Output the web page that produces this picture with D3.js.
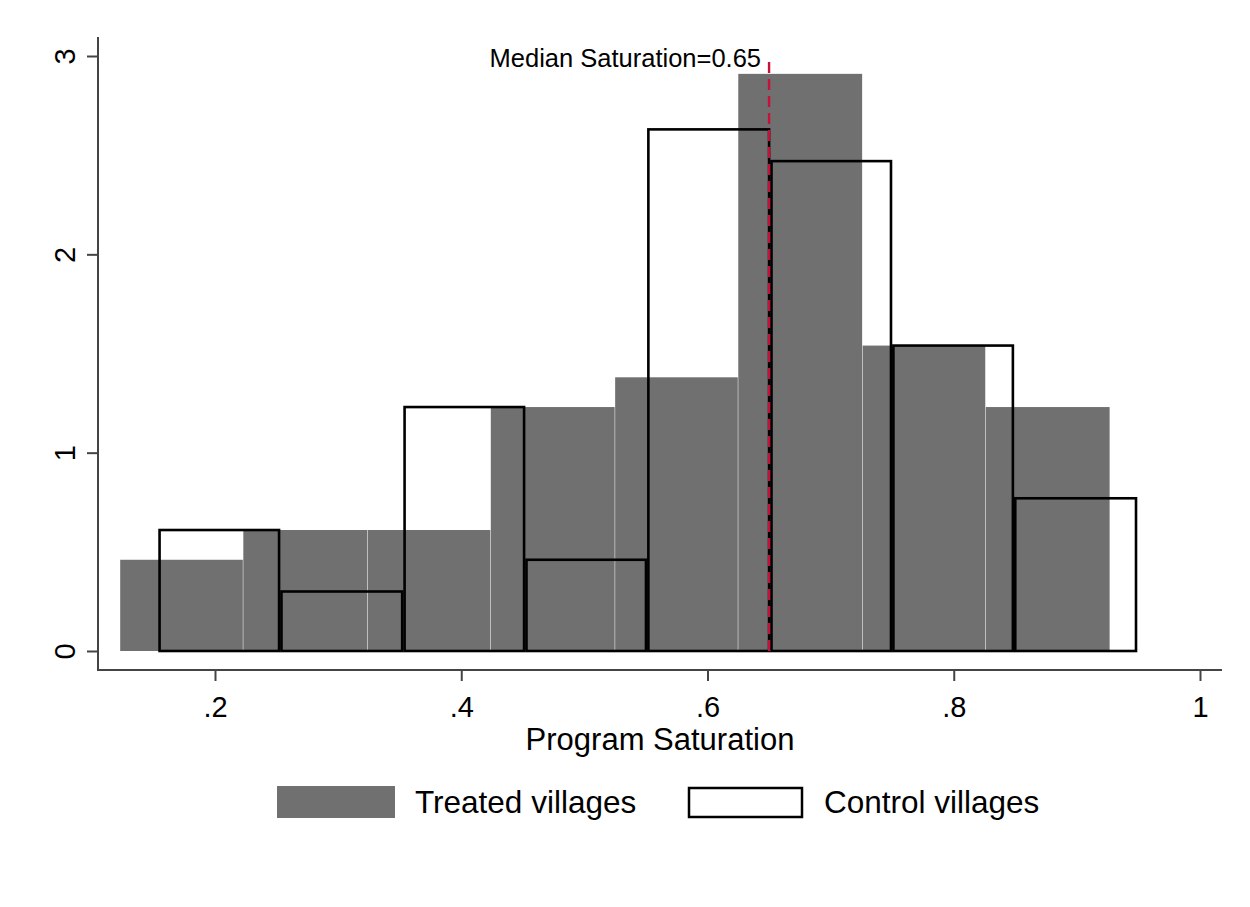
<!DOCTYPE html>
<html><head><meta charset="utf-8">
<script src="https://cdn.jsdelivr.net/npm/d3@7"></script>
<style>body{margin:0;background:#fff;}svg{display:block;font-family:"Liberation Sans",Arial,sans-serif;}</style>
</head><body>
<svg id="c" width="1250" height="907"></svg>
<script>
const treatedEdges = [0.123, 0.223, 0.324, 0.424, 0.525, 0.625, 0.726, 0.826, 0.927];
const treatedDensity = [0.46, 0.61, 0.61, 1.23, 1.38, 2.91, 1.54, 1.23];
const controlEdges = [0.154, 0.253, 0.353, 0.452, 0.551, 0.651, 0.750, 0.849, 0.949];
const controlDensity = [0.61, 0.30, 1.23, 0.46, 2.63, 2.47, 1.54, 0.77];
const xTicks = [0.2, 0.4, 0.6, 0.8, 1];
const xTickLabels = [".2", ".4", ".6", ".8", "1"];
const yTicks = [0, 1, 2, 3];
const medianValue = 0.65;
const medianLabel = "Median Saturation=0.65";
const xTitle = "Program Saturation";
const legendLabels = ["Treated villages", "Control villages"];

const svg = d3.select("#c");
const x = d3.scaleLinear().domain([0.2, 1]).range([215, 1200]);
const y = d3.scaleLinear().domain([0, 3]).range([651, 56]);
const axisColor = "#444";
const FONT = "'Liberation Sans', Arial, sans-serif";

// treated bars
const tBins = treatedDensity.map((v, i) => ({x0: treatedEdges[i], x1: treatedEdges[i+1], v}));
svg.append("g").selectAll("rect").data(tBins).join("rect")
  .attr("x", d => x(d.x0)).attr("width", d => x(d.x1) - x(d.x0) - 0.5)
  .attr("y", d => y(d.v)).attr("height", d => y(0) - y(d.v))
  .attr("fill", "#707070");

// control bars (outline)
const cBins = controlDensity.map((v, i) => ({x0: controlEdges[i], x1: controlEdges[i+1], v}));
svg.append("g").selectAll("rect").data(cBins).join("rect")
  .attr("x", d => x(d.x0) + 1.2).attr("width", d => x(d.x1) - x(d.x0) - 2.4)
  .attr("y", d => y(d.v)).attr("height", d => y(0) - y(d.v))
  .attr("fill", "none").attr("stroke", "#000").attr("stroke-width", 2.6);

// median line
svg.append("line").attr("x1", x(medianValue)).attr("x2", x(medianValue))
  .attr("y1", 62).attr("y2", y(0))
  .attr("stroke", "#c8103c").attr("stroke-width", 2.4).attr("stroke-dasharray", "11,6");
svg.append("text").attr("x", x(medianValue) - 8).attr("y", 67).attr("text-anchor", "end")
  .style("font-size", "25.5px").style("font-family", FONT).attr("fill", "#000").text(medianLabel);

// x axis
const xAxis = svg.append("g").attr("transform", "translate(0,670)")
  .call(d3.axisBottom(x).tickValues(xTicks).tickFormat((d, i) => xTickLabels[i]).tickSize(11).tickSizeOuter(0));
xAxis.select(".domain").remove();
xAxis.append("line").attr("x1", 98).attr("x2", 1222).attr("stroke", axisColor).attr("stroke-width", 2);
xAxis.selectAll(".tick line").attr("stroke", axisColor).attr("stroke-width", 2);
xAxis.selectAll(".tick text").style("font-size", "29px").style("font-family", FONT).attr("fill", "#000")
  .attr("dy", null).attr("y", 47);

// y axis
const yAxis = svg.append("g").attr("transform", "translate(98,0)")
  .call(d3.axisLeft(y).tickValues(yTicks).tickFormat(d3.format("d")).tickSize(11).tickSizeOuter(0));
yAxis.select(".domain").remove();
yAxis.append("line").attr("y1", 37).attr("y2", 671).attr("stroke", axisColor).attr("stroke-width", 2);
yAxis.selectAll(".tick line").attr("stroke", axisColor).attr("stroke-width", 2);
yAxis.selectAll(".tick text").style("font-size", "29px").style("font-family", FONT).attr("fill", "#000")
  .attr("x", null).attr("dy", null).attr("text-anchor", "middle")
  .attr("transform", "translate(-23,0) rotate(-90)");

// x title
svg.append("text").attr("x", 660).attr("y", 750).attr("text-anchor", "middle")
  .style("font-size", "31px").style("font-family", FONT).attr("fill", "#000").text(xTitle);

// legend
svg.append("rect").attr("x", 277).attr("y", 786).attr("width", 118).attr("height", 32).attr("fill", "#707070");
svg.append("text").attr("x", 415).attr("y", 813)
  .style("font-size", "31.5px").style("font-family", FONT).attr("fill", "#000").text(legendLabels[0]);
svg.append("rect").attr("x", 689).attr("y", 788).attr("width", 113).attr("height", 29)
  .attr("fill", "none").attr("stroke", "#000").attr("stroke-width", 2.5);
svg.append("text").attr("x", 824).attr("y", 813)
  .style("font-size", "31.5px").style("font-family", FONT).attr("fill", "#000").text(legendLabels[1]);
</script>
</body></html>
